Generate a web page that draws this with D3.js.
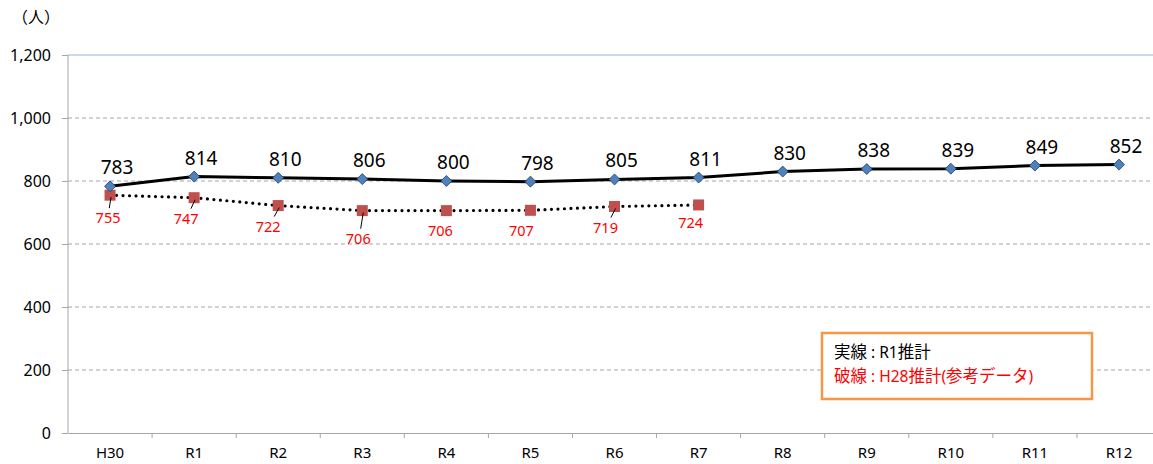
<!DOCTYPE html>
<html><head><meta charset="utf-8">
<script src="https://cdn.jsdelivr.net/npm/d3@7"></script>
<style>body{margin:0;background:#fff}svg{display:block}</style>
</head><body>
<script>
const categories = ["H30","R1","R2","R3","R4","R5","R6","R7","R8","R9","R10","R11","R12"];
const r1Values = [783,814,810,806,800,798,805,811,830,838,839,849,852];
const h28Values = [755,747,722,706,706,707,719,724];
const yTicks = [0,200,400,600,800,1000,1200];
// label layout offsets (dx, dy) for red H28 labels relative to point, and whether a leader line is drawn
const h28LabelDx = [-2,-8,-10,-4,-6,-9,-9,-8];
const h28LabelDy = [28,26,26,33,25,26,26,23];
const h28Leader = [true,true,true,true,false,false,true,false];

const W = 1153, H = 464;
const svg = d3.select("body").append("svg").attr("width",W).attr("height",H);
const left = 68, bandW = 84.08;
const x = d3.scaleBand().domain(categories).range([left, left + bandW*categories.length]);
const y = d3.scaleLinear().domain([0,1200]).range([433,55]);
const cx = d => x(d) + x.bandwidth()/2;
const font = "'Noto Sans','DejaVu Sans',sans-serif";
const jp = "'Noto Sans CJK JP',sans-serif";

// gridlines
svg.append("g").selectAll("line").data(yTicks.filter(t=>t>0)).join("line")
  .attr("x1",left).attr("x2",W).attr("y1",d=>y(d)).attr("y2",d=>y(d))
  .attr("stroke",d=>d===1200?"#8eb4e3":"#a6a6a6").attr("stroke-width",1)
  .attr("stroke-dasharray",d=>d===1200?null:"4,3");

// y axis
const yAxis = d3.axisLeft(y).tickValues(yTicks).tickSize(6).tickFormat(d3.format(","));
const gy = svg.append("g").attr("transform",`translate(${left},0)`).call(yAxis);
gy.select(".domain").attr("stroke","#a6a6a6").attr("d",`M0,${y(1200)}V${y(0)}`);
gy.selectAll(".tick line").attr("stroke","#a6a6a6");
gy.selectAll(".tick text").attr("font-family",font).attr("font-size",16).attr("fill","#000").attr("x",-17);

// x axis
const xAxis = d3.axisBottom(x).tickSize(0).tickPadding(14);
const gx = svg.append("g").attr("transform",`translate(0,${y(0)})`).call(xAxis);
gx.select(".domain").attr("stroke","#a6a6a6");
gx.selectAll(".tick text").attr("font-family",font).attr("font-size",15).attr("fill","#000");
svg.append("g").selectAll("line").data(categories).join("line")
  .attr("x1",d=>x(d)+bandW).attr("x2",d=>x(d)+bandW).attr("y1",y(0)).attr("y2",y(0)+5)
  .attr("stroke","#a6a6a6");

// unit
svg.append("text").attr("x",12).attr("y",23).attr("font-family",jp).attr("font-size",16).text("（人）");

// H28 dotted line
const h28 = h28Values.map((v,i)=>({c:categories[i],v,i}));
svg.append("path").datum(h28)
  .attr("d",d3.line().x(d=>cx(d.c)).y(d=>y(d.v)))
  .attr("fill","none").attr("stroke","#000").attr("stroke-width",3.2)
  .attr("stroke-linecap","round").attr("stroke-dasharray","0,6.5");
svg.append("g").selectAll("rect").data(h28).join("rect")
  .attr("x",d=>cx(d.c)-5.5).attr("y",d=>y(d.v)-5.5).attr("width",11).attr("height",11)
  .attr("fill","#c0504d");
// leaders
svg.append("g").selectAll("line").data(h28.filter(d=>h28Leader[d.i])).join("line")
  .attr("x1",d=>cx(d.c)+h28LabelDx[d.i]*0.4).attr("y1",d=>y(d.v)+h28LabelDy[d.i]-15)
  .attr("x2",d=>cx(d.c)+1).attr("y2",d=>y(d.v)+2)
  .attr("stroke","#000").attr("stroke-width",1);
svg.append("g").selectAll("text").data(h28).join("text")
  .attr("x",d=>cx(d.c)+h28LabelDx[d.i]).attr("y",d=>y(d.v)+h28LabelDy[d.i])
  .attr("text-anchor","middle").attr("font-family",font).attr("font-size",14.5).attr("fill","#ff0000")
  .text(d=>d.v);

// R1 solid line
const r1 = r1Values.map((v,i)=>({c:categories[i],v}));
svg.append("path").datum(r1)
  .attr("d",d3.line().x(d=>cx(d.c)).y(d=>y(d.v)))
  .attr("fill","none").attr("stroke","#000").attr("stroke-width",3);
svg.append("g").selectAll("path").data(r1).join("path")
  .attr("d",d=>{const px=cx(d.c),py=y(d.v),s=5.5;return `M${px},${py-s}L${px+s},${py}L${px},${py+s}L${px-s},${py}Z`;})
  .attr("fill","#4f81bd").attr("stroke","#1f3864").attr("stroke-width",0.8);
svg.append("g").selectAll("text").data(r1).join("text")
  .attr("x",d=>cx(d.c)+7).attr("y",d=>y(d.v)-12)
  .attr("text-anchor","middle").attr("font-family",font).attr("font-size",19).attr("fill","#000")
  .text(d=>d.v);

// legend box
svg.append("rect").attr("x",822).attr("y",333).attr("width",270).attr("height",66)
  .attr("fill","#fff").attr("stroke","#f79646").attr("stroke-width",2.5);
const t1 = svg.append("text").attr("x",834).attr("y",358).attr("font-family",jp).attr("font-size",16.5).attr("fill","#000");
t1.append("tspan").text("実線");
t1.append("tspan").attr("font-family",font).attr("font-size",15.5).text(" : R1");
t1.append("tspan").text("推計");
const t2 = svg.append("text").attr("x",834).attr("y",382).attr("font-family",jp).attr("font-size",16.5).attr("fill","#ff0000");
t2.append("tspan").text("破線");
t2.append("tspan").attr("font-family",font).attr("font-size",15.5).text(" : H28");
t2.append("tspan").text("推計");
t2.append("tspan").attr("font-family",font).attr("font-size",15.5).text("(");
t2.append("tspan").text("参考データ");
t2.append("tspan").attr("font-family",font).attr("font-size",15.5).text(")");
</script>
</body></html>
